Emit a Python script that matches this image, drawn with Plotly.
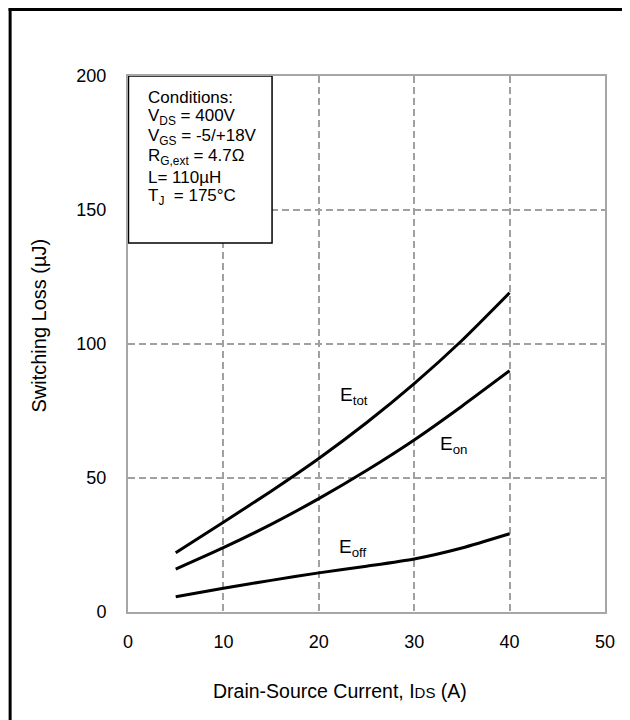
import plotly.graph_objects as go

# ---- data ----
current_A = [5, 10, 15, 20, 25, 30, 35, 40]
e_tot = [22.1, 33.5, 45.1, 57.3, 70.6, 85.2, 101.3, 119.1]
e_on = [16.0, 24.0, 32.7, 42.3, 52.8, 64.2, 76.8, 90.0]
e_off = [5.7, 8.9, 11.8, 14.6, 17.1, 19.8, 23.9, 29.2]

x_ticks = [0, 10, 20, 30, 40, 50]
y_ticks = [0, 50, 100, 150, 200]

condition_lines = ["Conditions:", "V<sub>DS</sub> = 400V", "V<sub>GS</sub> = -5/+18V",
                   "R<sub>G,ext</sub> = 4.7Ω", "L= 110µH", "T<sub>J</sub>  = 175°C"]

FONT = "Liberation Sans, Arial, sans-serif"
OFF = 8  # page body margin
W, H = 630 - OFF, 720 - OFF
L, T = 127.5 - OFF, 76 - OFF
pw, ph = 477.5, 536
R, B = W - L - pw, H - T - ph


def px2paper_x(px):
    return (px - OFF - L) / pw


def px2paper_y(py):
    return (T + ph - (py - OFF)) / ph


fig = go.Figure()
for ys in (e_tot, e_on, e_off):
    fig.add_trace(go.Scatter(x=current_A, y=ys, mode="lines",
                             line=dict(color="black", width=3, shape="spline", smoothing=0.6),
                             showlegend=False, hoverinfo="skip"))

axis_common = dict(showline=True, linecolor="#a6a6a6", linewidth=2, mirror=True,
                   showgrid=True, gridcolor="#a0a0a0", gridwidth=1.8, griddash="7px,4px",
                   zeroline=False, ticks="", tickfont=dict(family=FONT, size=18, color="black"))

fig.update_xaxes(range=[0, 50], tickvals=x_ticks, ticklabelstandoff=12, **axis_common)
fig.update_yaxes(range=[0, 200], tickvals=y_ticks, ticklabelstandoff=16, **axis_common)

# conditions box
fig.add_shape(type="rect", xref="x", yref="y", x0=0.05, x1=15.1, y0=137.7, y1=200,
              line=dict(color="black", width=1.5), fillcolor="white", layer="above")
for i, line in enumerate(condition_lines):
    fig.add_annotation(xref="x", yref="paper", x=1.9, y=px2paper_y(97 + 20 * i),
                       xanchor="left", yanchor="middle", text=line, showarrow=False,
                       align="left", font=dict(family=FONT, size=17, color="black"))

# curve labels
lab_font = dict(family=FONT, size=19, color="black")
fig.add_annotation(x=22.0, y=80.6, text="E<sub>tot</sub>", showarrow=False,
                   xanchor="left", yanchor="middle", font=lab_font)
fig.add_annotation(x=32.5, y=62.3, text="E<sub>on</sub>", showarrow=False,
                   xanchor="left", yanchor="middle", font=lab_font)
fig.add_annotation(x=21.9, y=23.9, text="E<sub>off</sub>", showarrow=False,
                   xanchor="left", yanchor="middle", font=lab_font)

# axis titles
fig.add_annotation(xref="paper", yref="paper", x=px2paper_x(340), y=px2paper_y(691),
                   text="Drain-Source Current, I<span style='font-size:15px'>DS</span> (A)",
                   showarrow=False, xanchor="center", yanchor="middle",
                   font=dict(family=FONT, size=19.5, color="black"))
fig.add_annotation(xref="paper", yref="paper", x=px2paper_x(38), y=px2paper_y(326),
                   text="Switching Loss (µJ)", textangle=-90,
                   showarrow=False, xanchor="center", yanchor="middle",
                   font=dict(family=FONT, size=20, color="black"))

# outer frame (left and top edges visible)
fig.add_shape(type="line", xref="paper", yref="paper",
              x0=px2paper_x(9.5), x1=px2paper_x(9.5), y0=px2paper_y(8), y1=px2paper_y(730),
              line=dict(color="black", width=3))
fig.add_shape(type="line", xref="paper", yref="paper",
              x0=px2paper_x(8), x1=px2paper_x(640), y0=px2paper_y(9.5), y1=px2paper_y(9.5),
              line=dict(color="black", width=3))

fig.update_layout(width=W, height=H, margin=dict(l=L, r=R, t=T, b=B, pad=0),
                  paper_bgcolor="white", plot_bgcolor="white",
                  font=dict(family=FONT, color="black"))

fig.write_html("out.html")
